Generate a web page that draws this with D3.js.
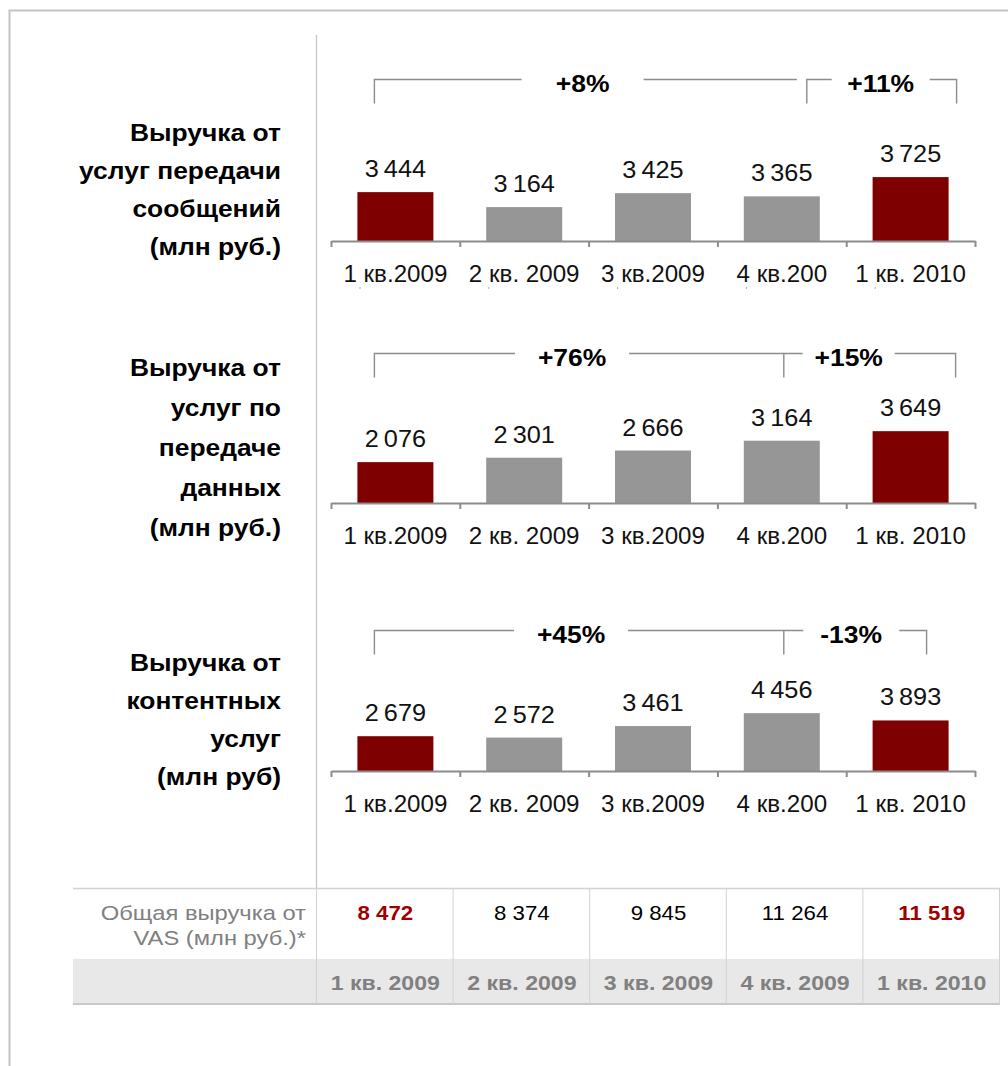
<!DOCTYPE html>
<html>
<head>
<meta charset="utf-8">
<script src="https://cdn.jsdelivr.net/npm/d3@7"></script>
<style>
  html, body { margin: 0; padding: 0; background: #fff; }
  svg { display: block; font-family: "Liberation Sans", Arial, sans-serif; }
</style>
</head>
<body>
<svg id="chart" width="1008" height="1066"></svg>
<script>
// ---- data ----
var quarters = ["1 кв.2009", "2 кв. 2009", "3 кв.2009", "4 кв.200", "1 кв. 2010"];
var tableQuarters = ["1 кв. 2009", "2 кв. 2009", "3 кв. 2009", "4 кв. 2009", "1 кв. 2010"];
var messagingRevenue = [3444, 3164, 3425, 3365, 3725];
var dataRevenue = [2076, 2301, 2666, 3164, 3649];
var contentRevenue = [2679, 2572, 3461, 4456, 3893];
var highlighted = [true, false, false, false, true];
var totalVas = [8472, 8374, 9845, 11264, 11519];

var messagingTitle = ["Выручка от", "услуг передачи", "сообщений", "(млн руб.)"];
var dataTitle = ["Выручка от", "услуг по", "передаче", "данных", "(млн руб.)"];
var contentTitle = ["Выручка от", "контентных", "услуг", "(млн руб)"];
var totalTitle = ["Общая выручка от", "VAS (млн руб.)*"];

var messagingGrowth = [{label: "+8%", from: 0, to: 3}, {label: "+11%", from: 3, to: 4}];
var dataGrowth = [{label: "+76%", from: 0, to: 3}, {label: "+15%", from: 3, to: 4}];
var contentGrowth = [{label: "+45%", from: 0, to: 3}, {label: "-13%", from: 3, to: 4}];

// ---- layout ----
var colours = {
  red: '#7f0000',
  grey: '#969696',
  axis: '#8c8c8c',
  bracket: '#8c8c8c',
  frame: '#c4c4c4',
  tableLine: '#d2d2d2',
  tableFill: '#e8e8e8',
  tableText: '#808080',
  totalRed: '#a00000'
};

// bracket geometry: [left offset from centre(from), right offset from centre(to), label shift from middle, gap width, right tick]
var panels = [
  {title: messagingTitle, values: messagingRevenue, growth: messagingGrowth,
   axisY: 241, yDomain: [2530, 4400], lineH: 37.7, titleUp: 43, bracketY: 79,
   brackets: [[-21, 15, -3, 122, false], [25, 46, -1, 98, true]], stubs: true},
  {title: dataTitle, values: dataRevenue, growth: dataGrowth,
   axisY: 503, yDomain: [0, 5080], lineH: 40, titleUp: 47, bracketY: 353,
   brackets: [[-21, 2, -7, 114, false], [2, 45, -21, 92, true]], stubs: false},
  {title: contentTitle, values: contentRevenue, growth: contentGrowth,
   axisY: 771, yDomain: [0, 7700], lineH: 37.7, titleUp: 43, bracketY: 630,
   brackets: [[-21, 2, -8, 114, false], [2, 16, -4, 96, true]], stubs: false}
];

var fmtBar = d3.formatLocale({decimal: ',', thousands: '\u2009', grouping: [3], currency: ['', '']}).format(',d');
var fmtTable = d3.formatLocale({decimal: ',', thousands: '\u00a0', grouping: [3], currency: ['', '']}).format(',d');

// the source text is a bit wider than Arial at the same height
function stretch(sel, k) {
  sel.each(function() {
    var w = this.getComputedTextLength();
    d3.select(this).attr('textLength', w * k).attr('lengthAdjust', 'spacingAndGlyphs');
  });
}

var svg = d3.select('#chart');

// outer frame and divider
svg.append('path')
  .attr('d', 'M9.5,1066V10.5H1008')
  .attr('fill', 'none')
  .attr('stroke', colours.frame)
  .attr('stroke-width', 2);

svg.append('line')
  .attr('x1', 316.5).attr('x2', 316.5)
  .attr('y1', 35).attr('y2', 888)
  .attr('stroke', colours.frame)
  .attr('stroke-width', 1.2);

var x = d3.scaleBand()
  .domain(d3.range(quarters.length))
  .range([331, 975])
  .paddingInner(0.41)
  .paddingOuter(0.205);

var slots = d3.scaleLinear()
  .domain([0, quarters.length])
  .range([331, 975]);

function centre(i) { return x(i) + x.bandwidth() / 2; }

panels.forEach(function(p) {
  var y = d3.scaleLinear().domain(p.yDomain).range([p.axisY, p.axisY - 100]);
  var g = svg.append('g');

  //title on the left
  var n = p.title.length;
  var titles = g.selectAll('text.title')
    .data(p.title)
    .join('text')
    .attr('class', 'title')
    .attr('x', 281)
    .attr('y', function(d, i) { return p.axisY - p.titleUp + (i - (n - 1) / 2) * p.lineH; })
    .attr('text-anchor', 'end')
    .attr('font-size', '24px')
    .attr('font-weight', 'bold')
    .attr('fill', '#000')
    .text(function(d) { return d; });
  stretch(titles, 1.1);

  //bars
  g.selectAll('rect.bar')
    .data(p.values)
    .join('rect')
    .attr('class', 'bar')
    .attr('x', function(d, i) { return x(i); })
    .attr('width', x.bandwidth())
    .attr('y', function(d) { return y(d); })
    .attr('height', function(d) { return p.axisY - y(d); })
    .attr('fill', function(d, i) { return highlighted[i] ? colours.red : colours.grey; });

  //value labels
  var values = g.selectAll('text.value')
    .data(p.values)
    .join('text')
    .attr('class', 'value')
    .attr('x', function(d, i) { return centre(i); })
    .attr('y', function(d) { return y(d) - 15; })
    .attr('text-anchor', 'middle')
    .attr('font-size', '23px')
    .attr('fill', '#111')
    .text(function(d) { return fmtBar(d); });
  stretch(values, 1.1);

  //axis line with ticks between categories
  var tickAxis = g.append('g')
    .attr('transform', 'translate(0,' + p.axisY + ')')
    .call(d3.axisBottom(slots).tickValues(d3.range(quarters.length + 1)).tickFormat('').tickSize(6).tickSizeOuter(0));
  tickAxis.selectAll('path, line').attr('stroke', colours.axis).attr('stroke-width', 2);

  var labelAxis = g.append('g')
    .attr('transform', 'translate(0,' + p.axisY + ')')
    .call(d3.axisBottom(x).tickSize(0).tickPadding(25).tickFormat(function(i) { return quarters[i]; }));
  labelAxis.select('.domain').remove();
  labelAxis.selectAll('text')
    .attr('font-size', '23px')
    .attr('font-family', '"Liberation Sans", Arial, sans-serif')
    .attr('fill', '#111');
  stretch(labelAxis.selectAll('text'), 1.05);

  if (p.stubs) {
    g.selectAll('line.stub')
      .data(d3.range(quarters.length))
      .join('line')
      .attr('class', 'stub')
      .attr('x1', function(i) { return slots(i) + 29; })
      .attr('x2', function(i) { return slots(i) + 29; })
      .attr('y1', p.axisY + 46)
      .attr('y2', p.axisY + 48)
      .attr('stroke', '#aaa')
      .attr('stroke-width', 1);
  }

  //growth brackets
  p.growth.forEach(function(b, k) {
    var geo = p.brackets[k];
    var x0 = centre(b.from) + geo[0];
    var x1 = centre(b.to) + geo[1];
    var lx = (x0 + x1) / 2 + geo[2];
    var half = geo[3] / 2;
    var top = p.bracketY + 0.5;
    var d = 'M' + x0 + ',' + (top + 24) + 'V' + top + 'H' + (lx - half) +
            'M' + (lx + half) + ',' + top + 'H' + x1;
    if (geo[4]) d += 'V' + (top + 24);
    g.append('path')
      .attr('d', d)
      .attr('fill', 'none')
      .attr('stroke', colours.bracket)
      .attr('stroke-width', 1.4);
    var lbl = g.append('text')
      .attr('x', lx)
      .attr('y', p.bracketY + 13)
      .attr('text-anchor', 'middle')
      .attr('font-size', '23px')
      .attr('font-weight', 'bold')
      .attr('fill', '#000')
      .text(b.label);
    stretch(lbl, 1.15);
  });
});

// ---- table of totals ----
var cols = d3.scaleBand()
  .domain(d3.range(totalVas.length))
  .range([317, 1000]);

var tableTop = 888, rowSplit = 959, tableBottom = 1004;
var t = svg.append('g');

t.append('rect')
  .attr('x', 73).attr('y', rowSplit)
  .attr('width', 1000 - 73).attr('height', tableBottom - rowSplit)
  .attr('fill', colours.tableFill);

t.append('line')
  .attr('x1', 73).attr('x2', 1000)
  .attr('y1', tableTop + 0.5).attr('y2', tableTop + 0.5)
  .attr('stroke', colours.tableLine).attr('stroke-width', 1.5);
t.append('line')
  .attr('x1', 73).attr('x2', 1000)
  .attr('y1', tableBottom).attr('y2', tableBottom)
  .attr('stroke', '#c8c8c8').attr('stroke-width', 2);

t.selectAll('line.col')
  .data(d3.range(totalVas.length + 1))
  .join('line')
  .attr('class', 'col')
  .attr('x1', function(i) { return (i < totalVas.length ? cols(i) : 1000) - 0.5; })
  .attr('x2', function(i) { return (i < totalVas.length ? cols(i) : 1000) - 0.5; })
  .attr('y1', tableTop)
  .attr('y2', tableBottom)
  .attr('stroke', colours.tableLine)
  .attr('stroke-width', 1);

var rowTitle = t.selectAll('text.rowtitle')
  .data(totalTitle)
  .join('text')
  .attr('class', 'rowtitle')
  .attr('x', 306)
  .attr('y', function(d, i) { return 920 + i * 25; })
  .attr('text-anchor', 'end')
  .attr('font-size', '21px')
  .attr('fill', colours.tableText)
  .text(function(d) { return d; });
stretch(rowTitle, 1.13);

var totals = t.selectAll('text.total')
  .data(totalVas)
  .join('text')
  .attr('class', 'total')
  .attr('x', function(d, i) { return cols(i) + cols.bandwidth() / 2; })
  .attr('y', 920)
  .attr('text-anchor', 'middle')
  .attr('font-size', '21px')
  .attr('font-weight', function(d, i) { return highlighted[i] ? 'bold' : 'normal'; })
  .attr('fill', function(d, i) { return highlighted[i] ? colours.totalRed : '#000'; })
  .text(function(d) { return fmtTable(d); });
stretch(totals, 1.06);

var quarterCells = t.selectAll('text.quarter')
  .data(tableQuarters)
  .join('text')
  .attr('class', 'quarter')
  .attr('x', function(d, i) { return cols(i) + cols.bandwidth() / 2; })
  .attr('y', 990)
  .attr('text-anchor', 'middle')
  .attr('font-size', '21px')
  .attr('font-weight', 'bold')
  .attr('fill', colours.tableText)
  .text(function(d) { return d; });
stretch(quarterCells, 1.1);
</script>
</body>
</html>
